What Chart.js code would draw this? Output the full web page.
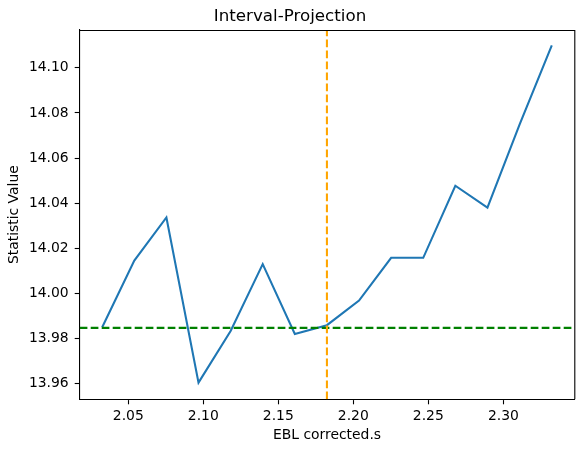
<!DOCTYPE html>
<html>
<head>
<meta charset="utf-8">
<title>Interval-Projection</title>
<script src="https://cdn.jsdelivr.net/npm/chart.js@4.4.0/dist/chart.umd.min.js"></script>
<style>
  html, body { margin: 0; padding: 0; background: #ffffff; }
  canvas { display: block; }
</style>
</head>
<body>
<canvas id="chart" width="585" height="453"></canvas>
<script>
// ---- data ----
const sValues = [2.0326, 2.0540, 2.0754, 2.0968, 2.1182, 2.1396, 2.1610, 2.1824,
                 2.2038, 2.2252, 2.2466, 2.2680, 2.2894, 2.3108, 2.3323];
const statValues = [13.9849, 14.0145, 14.0336, 13.9603, 13.9832, 14.0129, 13.9819, 13.9858,
                    13.9967, 14.0157, 14.0157, 14.0477, 14.0380, 14.0748, 14.1100];
const thresholdValue = 13.9846;   // green dashed horizontal line
const bestS = 2.1824;             // orange dashed vertical line

const xTicks = [2.05, 2.10, 2.15, 2.20, 2.25, 2.30];
const yTicks = [13.96, 13.98, 14.00, 14.02, 14.04, 14.06, 14.08, 14.10];
const xRange = [2.0176, 2.3473];
const yRange = [13.9529, 14.1168];

// ---- chart ----
const FONT = 'DejaVu Sans';
const LINE_W = 2.08;           // 1.5pt at 100 dpi
const DASH = [7.7, 3.3];
const lineData = sValues.map((s, i) => ({ x: s, y: statValues[i] }));

new Chart(document.getElementById('chart'), {
    type: 'line',
    data: {
        datasets: [
            {
                label: 'best',
                data: [{ x: bestS, y: yRange[0] }, { x: bestS, y: yRange[1] }],
                borderColor: '#ffa500',
                borderWidth: LINE_W,
                borderDash: DASH,
                pointRadius: 0,
                order: 1
            },
            {
                label: 'threshold',
                data: [{ x: xRange[0], y: thresholdValue }, { x: xRange[1], y: thresholdValue }],
                borderColor: '#008000',
                borderWidth: LINE_W,
                borderDash: DASH,
                pointRadius: 0,
                order: 2
            },
            {
                label: 'Statistic Value',
                data: lineData,
                borderColor: '#1f77b4',
                borderWidth: LINE_W,
                pointRadius: 0,
                tension: 0,
                order: 3
            }
        ]
    },
    options: {
        responsive: false,
        animation: false,
        layout: { padding: { left: 5.7, right: 10.7, top: 0, bottom: 9.7 } },
        plugins: {
            legend: { display: false },
            tooltip: { enabled: false },
            title: {
                display: true,
                text: 'Interval-Projection',
                color: '#000',
                font: { family: FONT, size: 16.7, weight: 'normal' },
                padding: { top: 6.5, bottom: 3.5 }
            }
        },
        scales: {
            x: {
                type: 'linear',
                min: xRange[0],
                max: xRange[1],
                afterBuildTicks: scale => { scale.ticks = xTicks.map(v => ({ value: v })); },
                afterFit: scale => { scale.height = 44; },
                grid: { drawOnChartArea: false, tickLength: 5, tickColor: '#000', tickWidth: 1.1 },
                border: { display: true, color: '#000', width: 1.1 },
                ticks: {
                    color: '#000',
                    padding: 4,
                    maxRotation: 0,
                    font: { family: FONT, size: 13.9 },
                    callback: v => v.toFixed(2)
                },
                title: {
                    display: true,
                    text: 'EBL corrected.s',
                    color: '#000',
                    padding: 0,
                    font: { family: FONT, size: 13.9 }
                }
            },
            y: {
                type: 'linear',
                min: yRange[0],
                max: yRange[1],
                afterBuildTicks: scale => { scale.ticks = yTicks.map(v => ({ value: v })); },
                afterFit: scale => { scale.width = 74; },
                grid: { drawOnChartArea: false, tickLength: 5, tickColor: '#000', tickWidth: 1.1 },
                border: { display: true, color: '#000', width: 1.1 },
                ticks: {
                    color: '#000',
                    padding: 6,
                    font: { family: FONT, size: 13.9 },
                    callback: v => v.toFixed(2)
                },
                title: {
                    display: true,
                    text: 'Statistic Value',
                    color: '#000',
                    padding: 0,
                    font: { family: FONT, size: 13.9 }
                }
            }
        }
    },
    plugins: [{
        // close the box on the top and right like matplotlib's frame
        id: 'frame',
        afterDraw(chart) {
            const { ctx, chartArea: a } = chart;
            ctx.save();
            ctx.strokeStyle = '#000';
            ctx.lineWidth = 1.1;
            ctx.beginPath();
            ctx.moveTo(a.left, a.top + 0.5);
            ctx.lineTo(a.right + 0.5, a.top + 0.5);
            ctx.lineTo(a.right + 0.5, a.bottom);
            ctx.stroke();
            ctx.restore();
        }
    }]
});
</script>
</body>
</html>
